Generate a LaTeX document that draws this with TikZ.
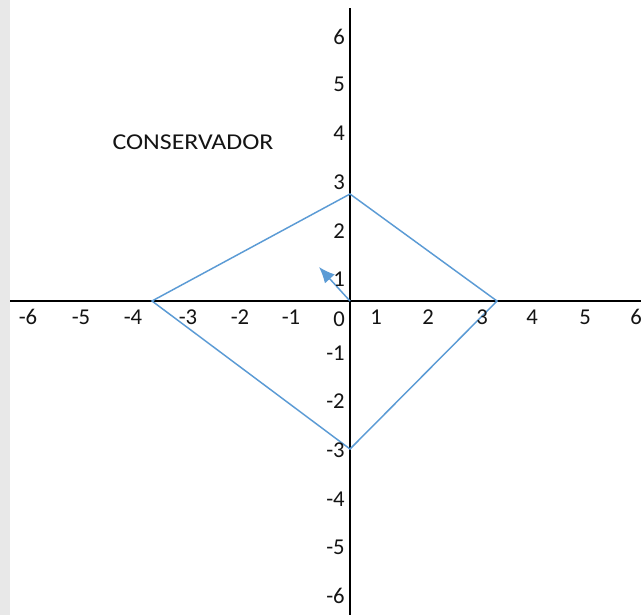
\documentclass[tikz,border=0pt]{standalone}
\usepackage{fontspec}
\setmainfont{Carlito}
\usetikzlibrary{arrows.meta}
\definecolor{lineblue}{RGB}{91,155,213}
\definecolor{stripgray}{RGB}{232,232,232}
\definecolor{textcol}{RGB}{20,20,20}
\tikzset{
  axisline/.style={black, line width=1.5pt},
  polyline/.style={lineblue, line width=1.1pt},
  lbl/.style={inner sep=0pt, text=textcol, font=\fontsize{17}{20}\selectfont},
  vlbl/.style={lbl, anchor=east},
}
\begin{document}
\begin{tikzpicture}[x=0.75pt,y=-0.75pt]
\useasboundingbox (0,0) rectangle (641,615);
\fill[white] (0,0) rectangle (641,615);
\fill[stripgray] (0,0) rectangle (10,615);
% axes
\coordinate (xl) at (10,301);
\coordinate (xr) at (641,301);
\coordinate (yt) at (350,8);
\coordinate (yb) at (350,615);
\coordinate (O) at (350,301);
\draw[axisline] (xl) -- (xr);
\draw[axisline] (yt) -- (yb);
% polygon
\coordinate (L) at (152,301);
\coordinate (T) at (350,194);
\coordinate (R) at (497,301);
\coordinate (B) at (350,449);
\draw[polyline] (L) -- (T) -- (R) -- (B) -- cycle;
% arrow
\coordinate (A) at (319,267);
\draw[polyline, -{Latex[length=12pt,width=10pt]}] (O) -- (A);
% x labels
\node[lbl] (xm6) at (28,317) {-6};
\node[lbl] (xm5) at (81,317) {-5};
\node[lbl] (xm4) at (133,317) {-4};
\node[lbl] (xm3) at (188,317) {-3};
\node[lbl] (xm2) at (240,317) {-2};
\node[lbl] (xm1) at (291,317) {-1};
\node[lbl] (x0) at (339,319) {0};
\node[lbl] (x1) at (376,317) {1};
\node[lbl] (x2) at (428,317) {2};
\node[lbl] (x3) at (482,317) {3};
\node[lbl] (x4) at (532,317) {4};
\node[lbl] (x5) at (585,317) {5};
\node[lbl] (x6) at (636,317) {6};
% y labels
\node[vlbl] (y6) at (345,37) {6};
\node[vlbl] (y5) at (345,84) {5};
\node[vlbl] (y4) at (345,133) {4};
\node[vlbl] (y3) at (345,182) {3};
\node[vlbl] (y2) at (345,231) {2};
\node[vlbl] (y1) at (345,279) {1};
\node[vlbl] (ym1) at (345,353) {-1};
\node[vlbl] (ym2) at (345,401) {-2};
\node[vlbl] (ym3) at (345,450) {-3};
\node[vlbl] (ym4) at (345,499) {-4};
\node[vlbl] (ym5) at (345,547) {-5};
\node[vlbl] (ym6) at (345,596) {-6};
% title
\node[lbl] (title) at (193,142) {\scalebox{1.14}[1]{CONSERVADOR}};
\end{tikzpicture}
\end{document}
